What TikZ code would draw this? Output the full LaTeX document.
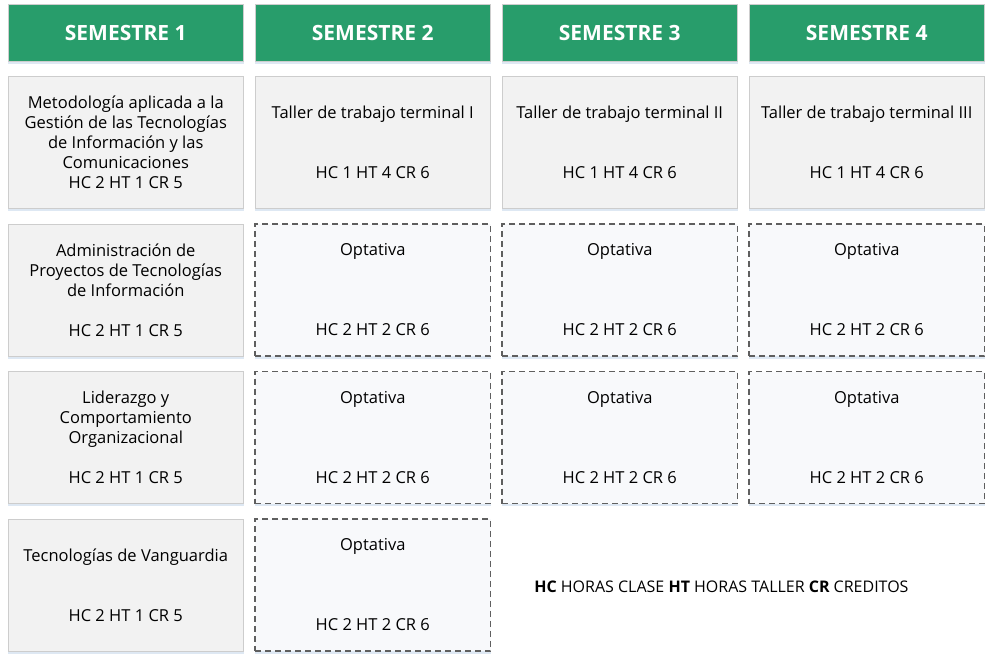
\documentclass[tikz,border=0pt]{standalone}
\usepackage{fontspec}
\setmainfont{Open Sans}
\usetikzlibrary{positioning, shadows}
\definecolor{semgreen}{RGB}{40,157,107}
\definecolor{cellgray}{RGB}{242,242,242}
\definecolor{cellline}{RGB}{205,205,205}
\definecolor{optfill}{RGB}{248,249,251}
\definecolor{optline}{RGB}{95,95,95}
\definecolor{cellshadow}{RGB}{214,226,240}

\begin{document}
\begin{tikzpicture}[
        node distance=15.5pt and 11.5pt,
        every node/.style={outer sep=0pt},
        head/.style={rectangle, fill=semgreen, draw=cellline, text=white, minimum width=235.5pt, minimum height=57pt, font=\fontsize{21}{25}\selectfont\bfseries, drop shadow={shadow xshift=0pt, shadow yshift=-2.5pt, fill=cellshadow, opacity=0.8}},
        subj/.style={rectangle, fill=cellgray, draw=cellline, minimum width=235.5pt, minimum height=132pt, align=center, font=\fontsize{16.5}{20}\selectfont, drop shadow={shadow xshift=0pt, shadow yshift=-2.5pt, fill=cellshadow, opacity=0.8}},
        opt/.style={subj, fill=optfill, draw=optline, line width=1.2pt, dash pattern=on 6pt off 4pt}
    ]
        \useasboundingbox (0,0) rectangle (995pt,-665pt);

        % semestres
        \node[head, anchor=north west] (sem1) at (8pt,-4pt) {SEMESTRE 1};
        \node[head, right=of sem1] (sem2) {SEMESTRE 2};
        \node[head, right=of sem2] (sem3) {SEMESTRE 3};
        \node[head, right=of sem3] (sem4) {SEMESTRE 4};

        % primer semestre
        \node[subj, below=of sem1] (met) {Metodología aplicada a la\\Gestión de las Tecnologías\\de Información y las\\Comunicaciones\\HC 2 HT 1 CR 5};
        \node[subj, below=of met] (adm) {Administración de\\Proyectos de Tecnologías\\de Información\\[20pt]HC 2 HT 1 CR 5};
        \node[subj, below=of adm] (lid) {Liderazgo y\\Comportamiento\\Organizacional\\[20pt]HC 2 HT 1 CR 5};
        \node[subj, below=of lid] (tec) {Tecnologías de Vanguardia\\[40pt]HC 2 HT 1 CR 5};

        % talleres
        \node[subj, below=of sem2] (tt1) {Taller de trabajo terminal I\\[40pt]HC 1 HT 4 CR 6};
        \node[subj, below=of sem3] (tt2) {Taller de trabajo terminal II\\[40pt]HC 1 HT 4 CR 6};
        \node[subj, below=of sem4] (tt3) {Taller de trabajo terminal III\\[40pt]HC 1 HT 4 CR 6};

        % optativas
        \node[opt, below=of tt1] (op2a) {Optativa\\[60pt]HC 2 HT 2 CR 6};
        \node[opt, below=of tt2] (op3a) {Optativa\\[60pt]HC 2 HT 2 CR 6};
        \node[opt, below=of tt3] (op4a) {Optativa\\[60pt]HC 2 HT 2 CR 6};
        \node[opt, below=of op2a] (op2b) {Optativa\\[60pt]HC 2 HT 2 CR 6};
        \node[opt, below=of op3a] (op3b) {Optativa\\[60pt]HC 2 HT 2 CR 6};
        \node[opt, below=of op4a] (op4b) {Optativa\\[60pt]HC 2 HT 2 CR 6};
        \node[opt, below=of op2b] (op2c) {Optativa\\[60pt]HC 2 HT 2 CR 6};

        % leyenda
        \node[anchor=west, font=\fontsize{16}{20}\selectfont] (leyenda) at (531pt,-587pt) {\textbf{HC} HORAS CLASE \textbf{HT} HORAS TALLER \textbf{CR} CREDITOS};
    \end{tikzpicture}
\end{document}
